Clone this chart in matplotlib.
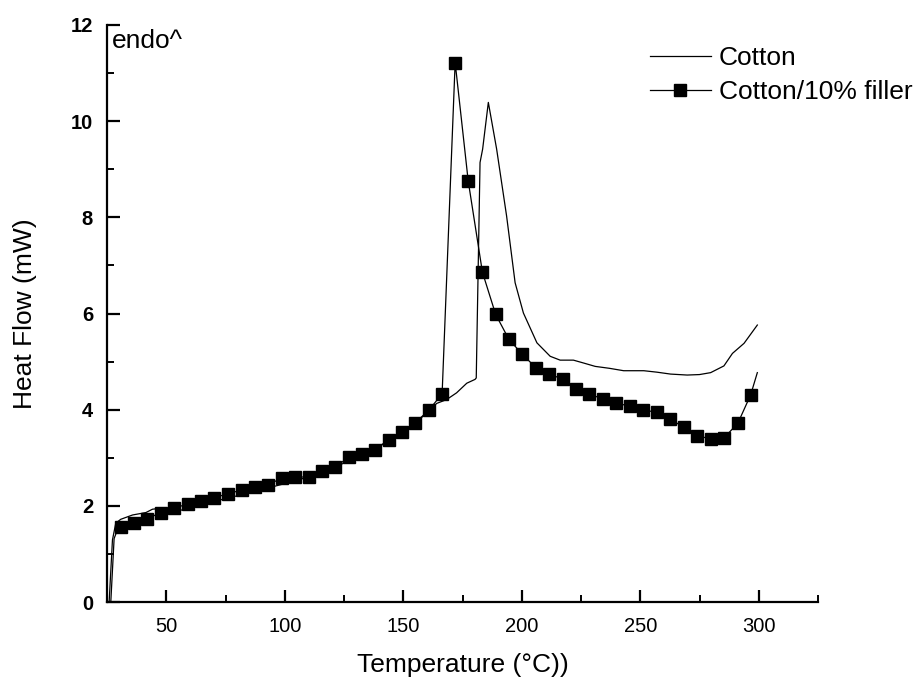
import matplotlib
matplotlib.use("Agg")
import matplotlib.pyplot as plt
from matplotlib.ticker import MultipleLocator

plt.rcParams['font.family'] = ['Liberation Sans', 'DejaVu Sans']

# Cotton (plain line)
cotton_T = [25.9, 27.3, 28.7, 30.8, 35.8, 41.4, 44.2, 47.8, 52.7, 64.0, 75.0, 85.1,
            100.6, 110.0, 120.0, 130.0, 140.0, 150.0, 160.0, 164.1, 168.3, 172.5,
            176.8, 180.3, 180.8, 182.4, 183.5, 185.9, 189.4, 193.6, 197.2, 200.7,
            206.4, 212.0, 216.2, 221.8, 226.1, 231.0, 237.0, 243.0, 251.5, 257.0,
            262.8, 269.8, 275.0, 279.7, 285.3, 288.9, 293.8, 299.4]
cotton_HF = [0.0, 1.29, 1.64, 1.72, 1.81, 1.86, 1.93, 1.95, 1.86, 2.02, 2.15, 2.27,
             2.47, 2.60, 2.78, 3.00, 3.25, 3.52, 3.93, 4.13, 4.21, 4.35,
             4.55, 4.63, 4.66, 9.14, 9.42, 10.39, 9.42, 8.03, 6.64, 6.01,
             5.39, 5.11, 5.03, 5.03, 4.97, 4.90, 4.86, 4.81, 4.81, 4.78,
             4.74, 4.72, 4.73, 4.77, 4.91, 5.17, 5.38, 5.76]

# Cotton/10% filler: line start, marker points, line end
filler_start_T = [26.6, 28.0, 29.4]
filler_start_HF = [0.0, 1.32, 1.50]
filler_marker_T = [30.8, 36.5, 41.8, 47.8, 53.4, 59.0, 64.7, 70.3, 75.9, 81.9, 87.5,
                   93.1, 98.8, 104.4, 110.1, 115.7, 121.4, 127.0, 132.5, 138.2, 143.8,
                   149.5, 155.1, 160.8, 166.4, 171.9, 177.4, 183.4, 189.0, 194.6, 200.3,
                   206.0, 211.5, 217.2, 222.9, 228.5, 234.1, 239.9, 245.6, 251.2, 256.9,
                   262.5, 268.4, 274.1, 279.7, 285.3, 291.2, 296.6]
filler_marker_HF = [1.55, 1.65, 1.73, 1.86, 1.95, 2.04, 2.10, 2.17, 2.25, 2.33, 2.40,
                    2.44, 2.58, 2.61, 2.59, 2.73, 2.80, 3.02, 3.07, 3.17, 3.36,
                    3.53, 3.73, 3.99, 4.33, 11.22, 8.76, 6.86, 5.98, 5.46, 5.15,
                    4.87, 4.75, 4.63, 4.44, 4.33, 4.22, 4.14, 4.07, 3.99, 3.95,
                    3.81, 3.63, 3.46, 3.39, 3.41, 3.72, 4.31]
filler_end_T = [299.4]
filler_end_HF = [4.77]

x_ticks = [50, 100, 150, 200, 250, 300]
y_ticks = [0, 2, 4, 6, 8, 10, 12]

fig = plt.figure(figsize=(9.24, 6.81), dpi=100)
ax = fig.add_axes([107/924, 1-602/681, (818-107)/924, (602-25)/681])

ax.plot(cotton_T, cotton_HF, color='black', lw=0.9, label='Cotton')

fT = filler_start_T + filler_marker_T + filler_end_T
fH = filler_start_HF + filler_marker_HF + filler_end_HF
mk_idx = list(range(len(filler_start_T), len(filler_start_T) + len(filler_marker_T)))
ax.plot(fT, fH, color='black', lw=0.9, marker='s', markersize=8.5,
        markevery=mk_idx, label='Cotton/10% filler')

ax.set_xlim(25, 325)
ax.set_ylim(0, 12)
ax.set_xticks(x_ticks)
ax.set_yticks(y_ticks)
ax.xaxis.set_minor_locator(MultipleLocator(25))
ax.yaxis.set_minor_locator(MultipleLocator(1))

for s in ['top', 'right']:
    ax.spines[s].set_visible(False)
for s in ['left', 'bottom']:
    ax.spines[s].set_linewidth(1.6)

ax.tick_params(which='major', direction='in', length=9, width=1.6)
ax.tick_params(which='minor', direction='in', length=5, width=1.4)
ax.tick_params(axis='x', which='major', labelsize=14.5, pad=11)
ax.tick_params(axis='y', which='major', labelsize=14.5, pad=10)
for lbl in ax.get_yticklabels():
    lbl.set_fontweight('bold')

ax.set_xlabel('Temperature (°C))', fontsize=19, labelpad=12)
ax.set_ylabel('Heat Flow (mW)', fontsize=19, labelpad=24)

ax.text(112/924, 1-48/681, 'endo^', transform=fig.transFigure, fontsize=19,
        ha='left', va='baseline')

ax.legend(loc='upper left', bbox_to_anchor=(650/924, 1-46/681),
          bbox_transform=fig.transFigure, frameon=False, fontsize=19,
          borderpad=0, borderaxespad=0, handlelength=2.3, handletextpad=0.3,
          labelspacing=0.38, numpoints=1)

fig.savefig('out.png', dpi=100)
